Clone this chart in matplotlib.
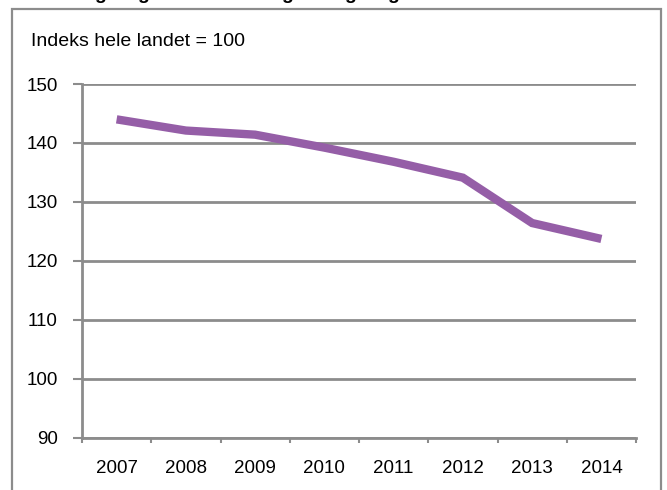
import matplotlib
matplotlib.use("Agg")
import matplotlib.pyplot as plt
from matplotlib.patches import Rectangle

years = ["2007", "2008", "2009", "2010", "2011", "2012", "2013", "2014"]
values = [144.0, 142.1, 141.4, 139.2, 136.8, 134.1, 126.4, 123.7]
yticks = [90, 100, 110, 120, 130, 140, 150]
note = "Indeks hele landet = 100"

plt.rcParams['font.family'] = ['Liberation Sans', 'DejaVu Sans']

W, H = 667, 490
fig = plt.figure(figsize=(W / 100, H / 100), dpi=100)

# outer chart frame
fig.patches.append(Rectangle((12 / W, -0.1), (661 - 12) / W, 1.1 - 9 / H,
                             transform=fig.transFigure, fill=False,
                             edgecolor='#8c8c8c', linewidth=1.6))

# descenders of cut-off text above (only the bottoms are visible)
for gx in [100, 143, 287, 350, 393]:
    fig.text(gx / W, 1 + 1 / H, "g", fontsize=14, fontweight='bold',
             ha='center', va='baseline', color='black')

ax = fig.add_axes([82 / W, 1 - 437.5 / H, (636 - 82) / W, (437.5 - 84) / H])
x = list(range(len(years)))
ax.plot(x, values, color='#955ea7', linewidth=6, solid_joinstyle='miter',
        solid_capstyle='butt', zorder=3)

ax.set_xlim(-0.5, len(years) - 0.5)
ax.set_ylim(90, 150)
ax.set_yticks(yticks)
ax.set_yticklabels([str(v) for v in yticks])
ax.yaxis.grid(True, color='#8c8c8c', linewidth=2)
ax.set_axisbelow(True)

ax.set_xticks([i - 0.5 for i in range(len(years) + 1)])
ax.set_xticklabels([])
ax.set_xticks(x, minor=True)
ax.set_xticklabels(years, minor=True)
ax.tick_params(axis='x', which='major', length=3.5, width=1.5, color='#8c8c8c', direction='out')
ax.tick_params(axis='x', which='minor', length=0, pad=16, labelsize=13.5)
ax.tick_params(axis='y', length=6.5, width=1.5, color='#8c8c8c', pad=11, labelsize=13.5)

for s in ['top', 'right']:
    ax.spines[s].set_visible(False)
for s in ['left', 'bottom']:
    ax.spines[s].set_color('#8c8c8c')
    ax.spines[s].set_linewidth(2)

fig.text(31 / W, 1 - 41 / H, note, fontsize=14, va='center', ha='left')

fig.savefig("out.png", dpi=100)
